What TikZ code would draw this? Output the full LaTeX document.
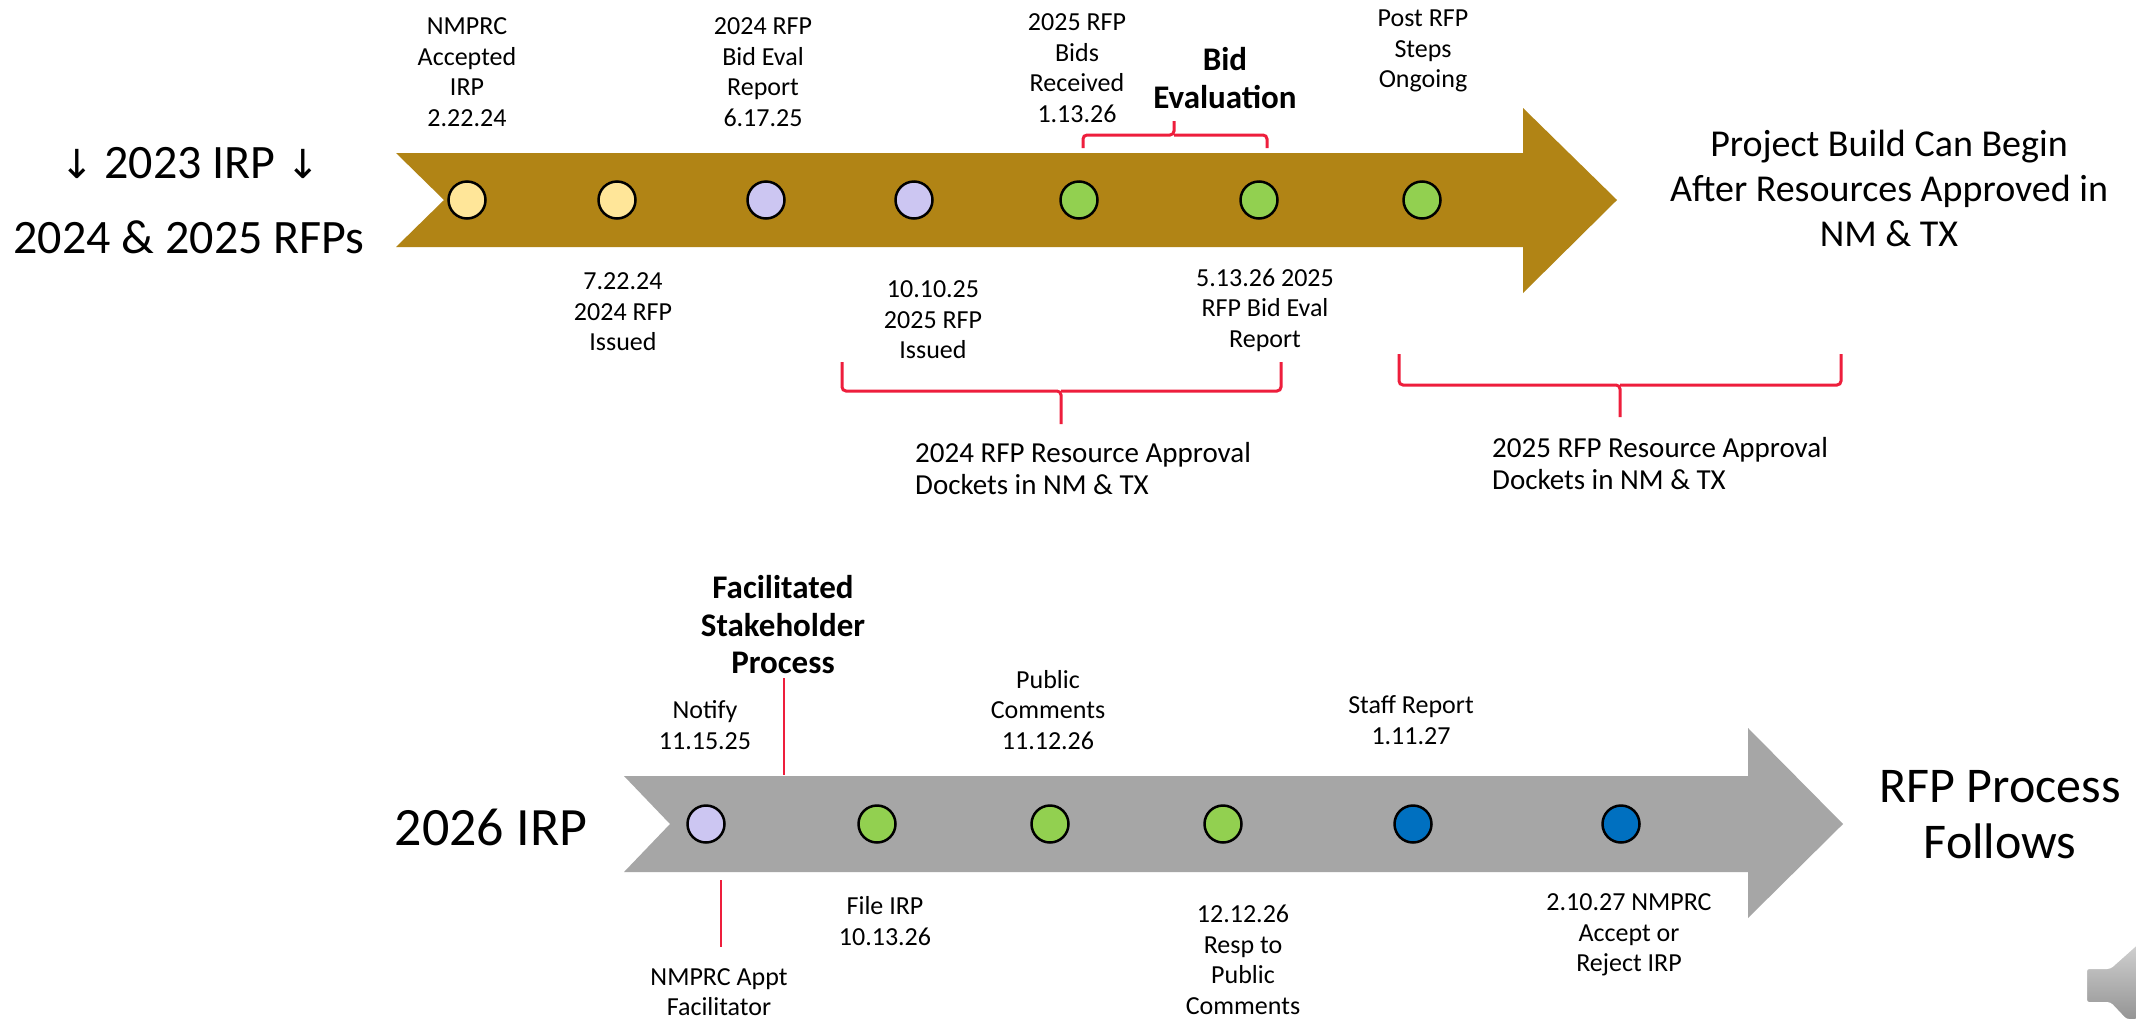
\documentclass[tikz,border=0pt]{standalone}
\usepackage{fontspec}
\setmainfont{Carlito}
\newfontfamily\dejavu{DejaVu Sans}
\definecolor{gold}{RGB}{177,132,21}
\definecolor{barGray}{RGB}{166,166,166}
\definecolor{dotYellow}{RGB}{255,230,153}
\definecolor{dotLav}{RGB}{204,198,242}
\definecolor{dotGreen}{RGB}{146,208,80}
\definecolor{dotBlue}{RGB}{0,112,192}
\definecolor{braceRed}{RGB}{238,30,60}
\tikzset{
  lbl/.style={align=center, inner sep=0pt, font=\fontsize{26}{30.5}\selectfont},
  boldlbl/.style={align=center, inner sep=0pt, font=\fontsize{33}{38.5}\selectfont\bfseries},
  dock/.style={align=left, anchor=west, inner sep=0pt, font=\fontsize{29}{32}\selectfont},
  dot/.style={circle, draw=black, line width=2.5pt, minimum size=37pt, inner sep=0pt},
  bracepath/.style={draw=braceRed, line width=3pt, rounded corners=4pt},
  tick/.style={draw=braceRed, line width=2pt},
}
\begin{document}
\begin{tikzpicture}[x=1pt,y=-1pt]
\useasboundingbox[fill=white] (0,0) rectangle (2136,1018);

% ---------- top arrow ----------
\fill[gold] (396,153) -- (1523,153) -- (1523,108) -- (1617,200) -- (1523,293)
  -- (1523,247) -- (396,247) -- (444,200) -- cycle;

\node[dot, fill=dotYellow] (t1) at (467,200) {};
\node[dot, fill=dotYellow] (t2) at (617,200) {};
\node[dot, fill=dotLav]    (t3) at (766,200) {};
\node[dot, fill=dotLav]    (t4) at (914,200) {};
\node[dot, fill=dotGreen]  (t5) at (1079,200) {};
\node[dot, fill=dotGreen]  (t6) at (1259,200) {};
\node[dot, fill=dotGreen]  (t7) at (1422,200) {};

\node[lbl] (l1) at (467,72) {NMPRC\\Accepted\\IRP\\2.22.24};
\node[lbl] (l3) at (763,72) {2024 RFP\\Bid Eval\\Report\\6.17.25};
\node[lbl] (l5) at (1077,68) {2025 RFP\\Bids\\Received\\1.13.26};
\node[boldlbl] (be) at (1225,78) {Bid\\Evaluation};
\node[lbl] (l7) at (1423,51) {Post RFP\\Steps\\Ongoing};

\node[lbl] (l2) at (623,312) {7.22.24\\2024 RFP\\Issued};
\node[lbl] (l4) at (933,320) {10.10.25\\2025 RFP\\Issued};
\node[lbl] (l6) at (1265,310) {5.13.26 2025\\RFP Bid Eval\\Report};

% braces
\coordinate (beL) at (1083,148);
\coordinate (beR) at (1267,148);
\coordinate (beM) at (1174,135);
\draw[bracepath] (beL) |- (beM) -- (1174,121);
\draw[bracepath] (beR) |- (beM);

\coordinate (aL) at (842,362);
\coordinate (aR) at (1281,362);
\coordinate (aM) at (1061,391);
\draw[bracepath] (aL) |- (aM) -- (1061,424);
\draw[bracepath] (aR) |- (aM);

\coordinate (bL) at (1399,354);
\coordinate (bR) at (1841,354);
\coordinate (bM) at (1620,385);
\draw[bracepath] (bL) |- (bM) -- (1620,417);
\draw[bracepath] (bR) |- (bM);

\node[dock] (d1) at (915,469) {2024 RFP Resource Approval\\Dockets in NM \& TX};
\node[dock] (d2) at (1492,464) {2025 RFP Resource Approval\\Dockets in NM \& TX};

\node[inner sep=0pt, font=\fontsize{48}{52}\selectfont] (irp23) at (190,163)
  {{\dejavu\fontsize{40}{44}\selectfont ↓} 2023 IRP {\dejavu\fontsize{40}{44}\selectfont ↓}};
\node[inner sep=0pt, font=\fontsize{48}{52}\selectfont] (rfps) at (189,237) {2024 \& 2025 RFPs};

\node[align=center, inner sep=0pt, font=\fontsize{38}{45}\selectfont] (build) at (1889,188)
  {Project Build Can Begin\\After Resources Approved in\\NM \& TX};

% ---------- bottom arrow ----------
\fill[barGray] (624,776) -- (1748,776) -- (1748,728) -- (1843,824) -- (1748,918)
  -- (1748,872) -- (624,872) -- (670,824) -- cycle;

\node[dot, fill=dotLav]   (b1) at (706,824) {};
\node[dot, fill=dotGreen] (b2) at (877,824) {};
\node[dot, fill=dotGreen] (b3) at (1050,824) {};
\node[dot, fill=dotGreen] (b4) at (1223,824) {};
\node[dot, fill=dotBlue]  (b5) at (1413,824) {};
\node[dot, fill=dotBlue]  (b6) at (1621,824) {};

\node[boldlbl, font=\fontsize{33}{37.5}\selectfont\bfseries] (fsp) at (783,625)
  {Facilitated\\Stakeholder\\Process};
\coordinate (fspTop) at (784,678);
\coordinate (fspBot) at (784,775);
\draw[tick] (fspTop) -- (fspBot);

\node[lbl] (n1) at (705,725) {Notify\\11.15.25};
\coordinate (apTop) at (721,880);
\coordinate (apBot) at (721,947);
\draw[tick] (apTop) -- (apBot);
\node[lbl] (n2) at (719,992) {NMPRC Appt\\Facilitator};

\node[lbl] (n3) at (885,921) {File IRP\\10.13.26};
\node[lbl] (n4) at (1048,710) {Public\\Comments\\11.12.26};
\node[lbl] (n5) at (1243,960) {12.12.26\\Resp to\\Public\\Comments};
\node[lbl] (n6) at (1411,720) {Staff Report\\1.11.27};
\node[lbl] (n7) at (1629,935) {2.10.27 NMPRC\\Accept or\\Reject IRP};

\node[inner sep=0pt, font=\fontsize{54}{58}\selectfont] (irp26) at (491,827) {2026 IRP};
\node[align=center, inner sep=0pt, font=\fontsize{50}{56}\selectfont] (follows) at (2000,815)
  {RFP Process\\Follows};

% speaker icon (cut off at corner)
\shade[top color=black!18, bottom color=black!42, draw=white, line width=2pt, rounded corners=3pt]
  (2086,968) -- (2110,968) -- (2138,943) -- (2138,1020) -- (2126,1020) -- (2110,1003)
  -- (2086,1003) -- cycle;
\end{tikzpicture}
\end{document}
